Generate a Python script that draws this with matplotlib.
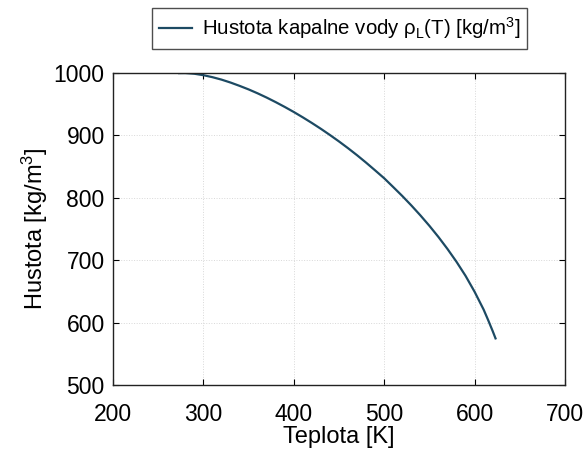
import matplotlib
matplotlib.use("Agg")
import matplotlib.pyplot as plt

plt.rcParams['font.family'] = ['Liberation Sans', 'DejaVu Sans']
plt.rcParams['mathtext.fontset'] = 'custom'
plt.rcParams['mathtext.rm'] = 'Liberation Sans'
plt.rcParams['mathtext.it'] = 'Liberation Sans:italic'

# Saturated liquid water density
T = [273.15, 280, 290, 300, 310, 320, 330, 340, 350, 360, 370, 380, 390, 400,
     410, 420, 430, 440, 450, 460, 470, 480, 490, 500, 510, 520, 530, 540,
     550, 560, 570, 580, 590, 600, 610, 615, 620, 623.15]
rho = [999.8, 999.9, 998.8, 996.5, 993.3, 989.4, 984.7, 979.4, 973.7, 967.4,
       960.6, 953.3, 945.6, 937.5, 928.9, 919.9, 910.5, 900.6, 890.3, 879.5,
       868.2, 856.3, 843.9, 831.3, 817.2, 802.9, 787.8, 771.9, 755.1, 737.2,
       718.0, 697.4, 674.9, 649.4, 620.8, 604.0, 586.4, 574.7]
xticks = [200, 300, 400, 500, 600, 700]
yticks = [500, 600, 700, 800, 900, 1000]

fig = plt.figure(figsize=(5.87, 4.57), dpi=100)
ax = fig.add_axes([113/587, 1-385/457, (565-113)/587, (385-73)/457])
line, = ax.plot(T, rho, color='#1d4a63', lw=1.6,
                label='Hustota kapalne vody ρ$_\\mathrm{L}$(T) [kg/m$^3$]')
ax.set_xlim(200, 700)
ax.set_ylim(500, 1000)
ax.set_xticks(xticks)
ax.set_yticks(yticks)
ax.tick_params(direction='in', top=True, right=True, length=4, width=0.8,
               labelsize=16.5, pad=6)
ax.tick_params(axis='x', pad=13)
ax.grid(True, color='#d8d8d8', lw=0.7, ls=':')
for s in ax.spines.values():
    s.set_linewidth(1.0)
    s.set_color('#222222')
ax.set_xlabel('Teplota [K]', fontsize=17, labelpad=0)
ax.set_ylabel('Hustota [kg/m$^3$]', fontsize=17, labelpad=3)

leg = fig.legend(handles=[line], loc='center',
                 bbox_to_anchor=((152+527)/2/587, 1-28.5/457),
                 bbox_transform=fig.transFigure, fontsize=14.7,
                 frameon=True, fancybox=False, handlelength=1.6,
                 handletextpad=0.5, borderpad=0.35)
leg.get_frame().set_edgecolor('#222222')
leg.get_frame().set_linewidth(1.0)

fig.savefig('out.png', dpi=100)
